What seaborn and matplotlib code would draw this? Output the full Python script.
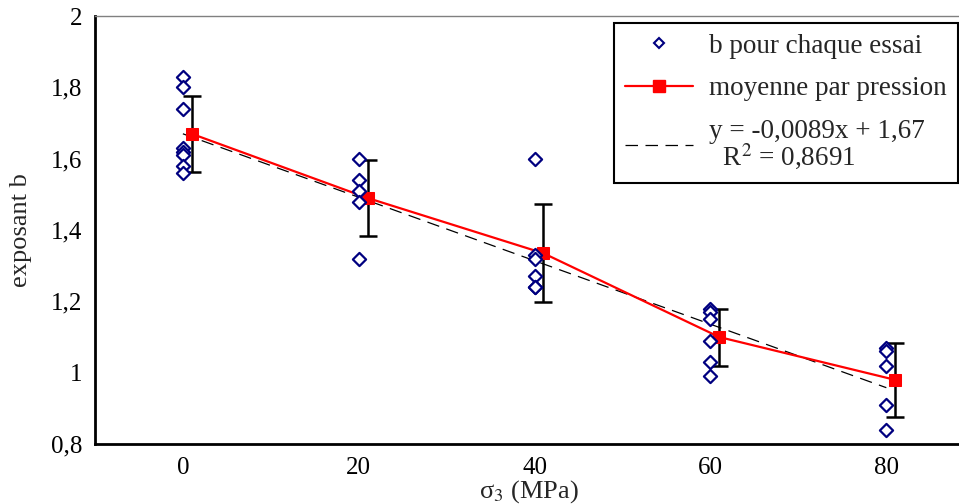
import numpy as np
import pandas as pd
import matplotlib
matplotlib.use("Agg")
import matplotlib.pyplot as plt
import seaborn as sns
from matplotlib.lines import Line2D

# --- data ---
sigma3_essai = [0] * 8 + [20] * 5 + [40] * 6 + [60] * 6 + [80] * 5
b_essai = [1.83, 1.80, 1.74, 1.63, 1.62, 1.61, 1.58, 1.56,
           1.60, 1.54, 1.51, 1.48, 1.32,
           1.60, 1.33, 1.32, 1.27, 1.24, 1.24,
           1.18, 1.17, 1.15, 1.09, 1.03, 0.99,
           1.07, 1.06, 1.02, 0.91, 0.84]
sigma3_moyenne = [1, 21, 41, 61, 81]
b_moyenne = [1.67, 1.49, 1.335, 1.10, 0.98]
b_ecart = [0.106, 0.107, 0.137, 0.08, 0.103]
pente, ordonnee = -0.0089, 1.67
sigma3_fit = [0, 80]

essais = pd.DataFrame({"sigma3": sigma3_essai, "b": b_essai})
moyennes = pd.DataFrame({"sigma3": sigma3_moyenne, "b": b_moyenne, "sd": b_ecart})

sns.set_style("white")
plt.rcParams["font.family"] = ["Liberation Serif", "DejaVu Serif"]
plt.rcParams["mathtext.fontset"] = "stix"

fig = plt.figure(figsize=(9.59, 5.04), dpi=100)
ax = fig.add_axes([0.099, 0.119, 0.905, 0.849])

# regression line
x_fit = np.array(sigma3_fit, dtype=float)
ax.plot(x_fit, pente * x_fit + ordonnee, color="black", lw=0.9,
        dashes=(10, 6), zorder=2)

# error bars on means
ax.errorbar(moyennes["sigma3"], moyennes["b"], yerr=moyennes["sd"],
            fmt="none", ecolor="black", elinewidth=1.8, capsize=6.5,
            capthick=1.8, zorder=3)

# mean per pressure
sns.lineplot(data=moyennes, x="sigma3", y="b", ax=ax, color="red", lw=1.6,
             marker="s", markersize=9, markeredgecolor="red", zorder=4,
             legend=False)

# each test
sns.scatterplot(data=essais, x="sigma3", y="b", ax=ax, marker="D", s=45,
                facecolor="white", edgecolor="navy", linewidth=1.6,
                zorder=5, legend=False)

ax.set_xlim(-10, 88.7)
ax.set_ylim(0.8, 2.0)
ax.set_xticks([0, 20, 40, 60, 80])
ax.set_yticks([0.8, 1.0, 1.2, 1.4, 1.6, 1.8, 2.0])
ax.set_yticklabels(["0,8", "1", "1,2", "1,4", "1,6", "1,8", "2"])
ax.tick_params(axis="both", direction="inout", length=12, width=1.5,
               labelsize=18, colors="black", pad=3)

for side in ["left", "bottom"]:
    ax.spines[side].set_color("black")
    ax.spines[side].set_linewidth(2)
ax.spines["top"].set_color("gray")
ax.spines["top"].set_linewidth(1)
ax.spines["right"].set_visible(False)

ax.set_xlabel(r"σ$_3$ (MPa)", fontsize=19, labelpad=0)
ax.set_ylabel("exposant b", fontsize=19, labelpad=14)

handles = [
    Line2D([], [], ls="none", marker="D", markersize=5,
           markerfacecolor="white", markeredgecolor="navy", markeredgewidth=1.5),
    Line2D([], [], color="red", lw=1.6, marker="s", markersize=8),
    Line2D([], [], color="black", lw=0.9, dashes=(10, 6)),
]
labels = ["b pour chaque essai", "moyenne par pression",
          "y = -0,0089x + 1,67\n  R$^2$ = 0,8691"]
leg = ax.legend(handles, labels, loc="upper right",
                bbox_to_anchor=(0.994, 0.984), fontsize=19.5, frameon=True,
                fancybox=False, edgecolor="black", framealpha=1,
                handlelength=2.5, labelspacing=0.65, borderpad=0.4,
                handletextpad=0.6, borderaxespad=0)
leg.get_frame().set_linewidth(1.5)
leg.get_texts()[2].set_linespacing(0.9)

fig.savefig("out.png", dpi=100)
